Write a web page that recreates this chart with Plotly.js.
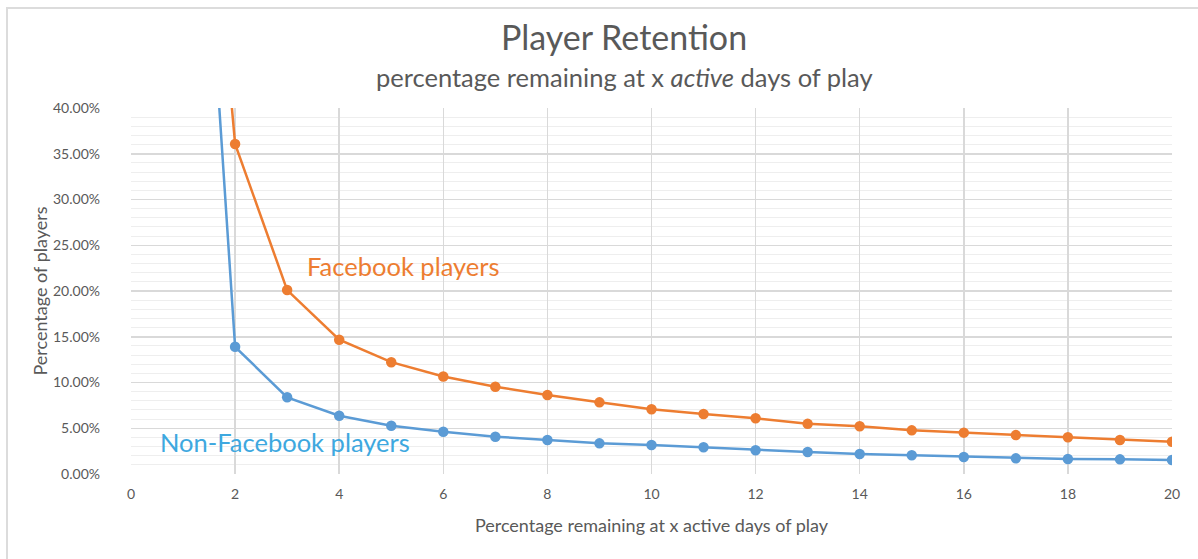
<!DOCTYPE html>
<html>
<head>
<meta charset="utf-8">
<script src="https://cdn.plot.ly/plotly-3.0.1.min.js"></script>
<style>
  html, body { margin: 0; padding: 0; background: #ffffff; }
  #chart { width: 1198px; height: 559px; }
  #frame { position: absolute; left: 6px; top: 7px; width: 1200px; height: 560px;
           border-top: 2px solid #dcdcdc; border-left: 2px solid #dcdcdc; pointer-events: none; }
</style>
</head>
<body>
<div id="chart"></div>
<div id="frame"></div>
<script>
// Active days of play
const days = [1, 2, 3, 4, 5, 6, 7, 8, 9, 10, 11, 12, 13, 14, 15, 16, 17, 18, 19, 20];
// Share of players remaining (fraction)
const facebookPlayers = [1.00, 0.3607, 0.201, 0.1468, 0.1222, 0.1065, 0.0954, 0.0863, 0.0783, 0.0707,
  0.0656, 0.0609, 0.0548, 0.0522, 0.0477, 0.0452, 0.0425, 0.0401, 0.0372, 0.0352];
const nonFacebookPlayers = [1.00, 0.139, 0.0838, 0.0637, 0.0528, 0.0462, 0.0408, 0.0372, 0.0335, 0.0317,
  0.0292, 0.0259, 0.0240, 0.0219, 0.0204, 0.0186, 0.0171, 0.0164, 0.0160, 0.0153];
const seriesNames = ["Facebook players", "Non-Facebook players"];
const xTicks = [0, 2, 4, 6, 8, 10, 12, 14, 16, 18, 20];

const font = "Lato, 'Open Sans', sans-serif";
const grey = "#595959";

const traces = [
  {
    x: days, y: nonFacebookPlayers, name: seriesNames[1], type: "scatter", mode: "lines+markers",
    line: { color: "#5b9bd5", width: 2.5 }, marker: { color: "#5b9bd5", size: 10.5 }
  },
  {
    x: days, y: facebookPlayers, name: seriesNames[0], type: "scatter", mode: "lines+markers",
    line: { color: "#ed7d31", width: 2.5 }, marker: { color: "#ed7d31", size: 10.5 }
  }
];

const layout = {
  width: 1198, height: 559,
  margin: { l: 131, r: 26, t: 108, b: 85 },
  paper_bgcolor: "#ffffff", plot_bgcolor: "#ffffff",
  showlegend: false,
  font: { family: font, color: grey },
  title: {
    text: "Player Retention",
    font: { family: font, size: 34, color: grey },
    x: 0.4736, xanchor: "center", xref: "paper",
    y: 1 - 38 / 559, yanchor: "middle", yref: "container"
  },
  xaxis: {
    range: [0, 20], tickvals: xTicks, ticktext: xTicks.map(String),
    showgrid: true, gridcolor: "#d9d9d9", gridwidth: 1.5,
    zeroline: false, showline: false, ticks: "",
    ticklabelstandoff: 10,
    tickfont: { family: font, size: 14, color: grey },
    title: { text: "Percentage remaining at x active days of play", font: { family: font, size: 18, color: grey }, standoff: 18 }
  },
  yaxis: {
    range: [0, 0.4], dtick: 0.05, tickformat: ".2%",
    showgrid: true, gridcolor: "#d9d9d9", gridwidth: 1.5,
    minor: { dtick: 0.01, showgrid: true, gridcolor: "#eeeeee", gridwidth: 1, ticks: "" },
    zeroline: false, showline: false, ticks: "",
    ticklabelstandoff: 30,
    tickfont: { family: font, size: 14, color: grey },
    title: { text: "Percentage of players", font: { family: font, size: 18, color: grey }, standoff: 0 }
  },
  annotations: [
    { text: "percentage remaining at x <i>active</i> days of play", xref: "paper", yref: "paper",
      x: 0.4736, y: 1 + 31 / 366, xanchor: "center", yanchor: "middle", showarrow: false,
      font: { family: font, size: 25.5, color: grey } },
    { text: seriesNames[0], x: 5.23, y: 0.227, xanchor: "center", yanchor: "middle", showarrow: false,
      font: { family: font, size: 25.5, color: "#ed7d31" } },
    { text: seriesNames[1], x: 2.96, y: 0.035, xanchor: "center", yanchor: "middle", showarrow: false,
      font: { family: font, size: 25.5, color: "#3ea8df" } }
  ]
};

Plotly.newPlot("chart", traces, layout, { displayModeBar: false, staticPlot: true });
</script>
</body>
</html>
